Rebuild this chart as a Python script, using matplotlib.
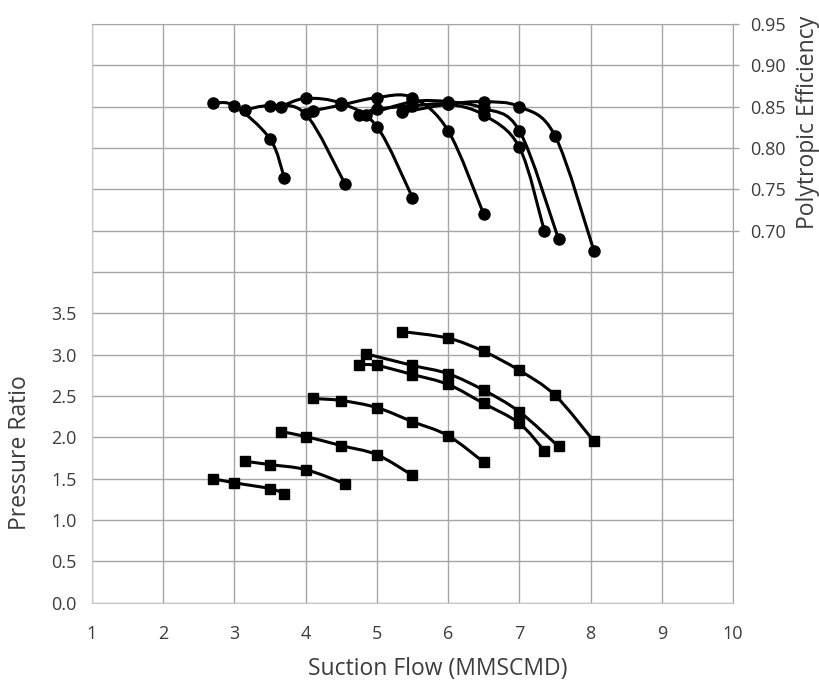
import numpy as np
import matplotlib
matplotlib.use('Agg')
import matplotlib.pyplot as plt
from matplotlib.path import Path
from matplotlib.patches import PathPatch
from matplotlib.ticker import FuncFormatter

# suction flow (MMSCMD) of each speed line
flow_lines = [
    [2.7, 3.0, 3.5, 3.7],
    [3.15, 3.5, 4.0, 4.55],
    [3.65, 4.0, 4.5, 5.0, 5.5],
    [4.1, 4.5, 5.0, 5.5, 6.0, 6.5],
    [4.85, 5.5, 6.0, 6.5, 7.0, 7.55],
    [4.75, 5.0, 5.5, 6.0, 6.5, 7.0, 7.35],
    [5.35, 6.0, 6.5, 7.0, 7.5, 8.05],
]

# pressure ratio (left axis)
pressure_lines = [
    [1.50, 1.45, 1.38, 1.32],
    [1.71, 1.67, 1.61, 1.44],
    [2.07, 2.01, 1.90, 1.79, 1.54],
    [2.47, 2.445, 2.36, 2.19, 2.02, 1.70],
    [3.01, 2.87, 2.77, 2.57, 2.31, 1.89],
    [2.88, 2.87, 2.76, 2.64, 2.41, 2.17, 1.84],
    [3.28, 3.20, 3.04, 2.81, 2.51, 1.95],
]

# polytropic efficiency (right axis)
eff_lines = [
    [0.854, 0.851, 0.811, 0.764],
    [0.846, 0.851, 0.841, 0.757],
    [0.850, 0.860, 0.854, 0.826, 0.740],
    [0.845, 0.852, 0.861, 0.861, 0.821, 0.720],
    [0.840, 0.856, 0.856, 0.848, 0.821, 0.690],
    [0.840, 0.847, 0.851, 0.853, 0.840, 0.801, 0.700],
    [0.843, 0.853, 0.856, 0.850, 0.815, 0.675],
]

TXT = '#3c3c3c'
GRID = '#a6a6a6'


def smooth_path(x, y):
    # excel-like smoothed line: catmull-rom turned into bezier segments
    p = np.column_stack([x, y])
    pts = np.vstack([p[0], p, p[-1]])
    verts = [p[0]]
    codes = [Path.MOVETO]
    for i in range(1, len(pts) - 2):
        c1 = pts[i] + (pts[i + 1] - pts[i - 1]) / 6.0
        c2 = pts[i + 1] - (pts[i + 2] - pts[i]) / 6.0
        verts += [c1, c2, pts[i + 1]]
        codes += [Path.CURVE4] * 3
    return Path(verts, codes)


plt.rcParams['font.family'] = ['Open Sans', 'DejaVu Sans']

fig = plt.figure(figsize=(8.19, 6.82), dpi=100)
ax = fig.add_axes([0.1123, 0.1163, 0.7827, 0.8485])
ax2 = ax.twinx()

for xs, ys in zip(flow_lines, pressure_lines):
    ax.add_patch(PathPatch(smooth_path(xs, ys), fill=False, lw=2.2, ec='black', zorder=3))
    ax.plot(xs, ys, 's', color='black', ms=6.5, zorder=4)

for xs, ys in zip(flow_lines, eff_lines):
    ax2.add_patch(PathPatch(smooth_path(xs, ys), fill=False, lw=2.2, ec='black', zorder=3))
    ax2.plot(xs, ys, 'o', color='black', ms=8, zorder=4)

ax.set_xlim(1, 10)
ax.set_ylim(0, 7)
ax2.set_ylim(0.25, 0.95)

ax.set_xticks(np.arange(1, 11, 1))
ax.set_yticks(np.arange(0, 7.01, 0.5))
ax.yaxis.set_major_formatter(FuncFormatter(lambda v, p: '%.1f' % v if v <= 3.51 else ''))
ax2.set_yticks(np.arange(0.70, 0.951, 0.05))
ax2.yaxis.set_major_formatter(FuncFormatter(lambda v, p: '%.2f' % v))

ax.grid(True, color=GRID, lw=1.0)
ax.set_axisbelow(True)

ax.tick_params(axis='x', length=0, pad=16, labelsize=13, labelcolor=TXT)
ax.tick_params(axis='y', length=0, pad=11, labelsize=13, labelcolor=TXT)
ax2.tick_params(axis='y', length=4, width=1, color=GRID, pad=8, labelsize=13, labelcolor=TXT)

for s in ['left', 'bottom']:
    ax.spines[s].set_color('#c8c8c8')
for s in ['top', 'right']:
    ax.spines[s].set_color(GRID)
for s in ax2.spines.values():
    s.set_visible(False)

ax.set_xlabel('Suction Flow (MMSCMD)', fontsize=16.5, color=TXT, va='center')
ax.xaxis.set_label_coords(0.539, -0.115)
ax.set_ylabel('Pressure Ratio', fontsize=16.5, color=TXT, va='center', ha='center')
ax.yaxis.set_label_coords(-0.112, 0.26)
ax2.set_ylabel('Polytropic Efficiency', fontsize=16.5, color=TXT, va='center', ha='center')
ax2.yaxis.set_label_coords(1.117, 0.83)

fig.savefig('out.png', dpi=100)
